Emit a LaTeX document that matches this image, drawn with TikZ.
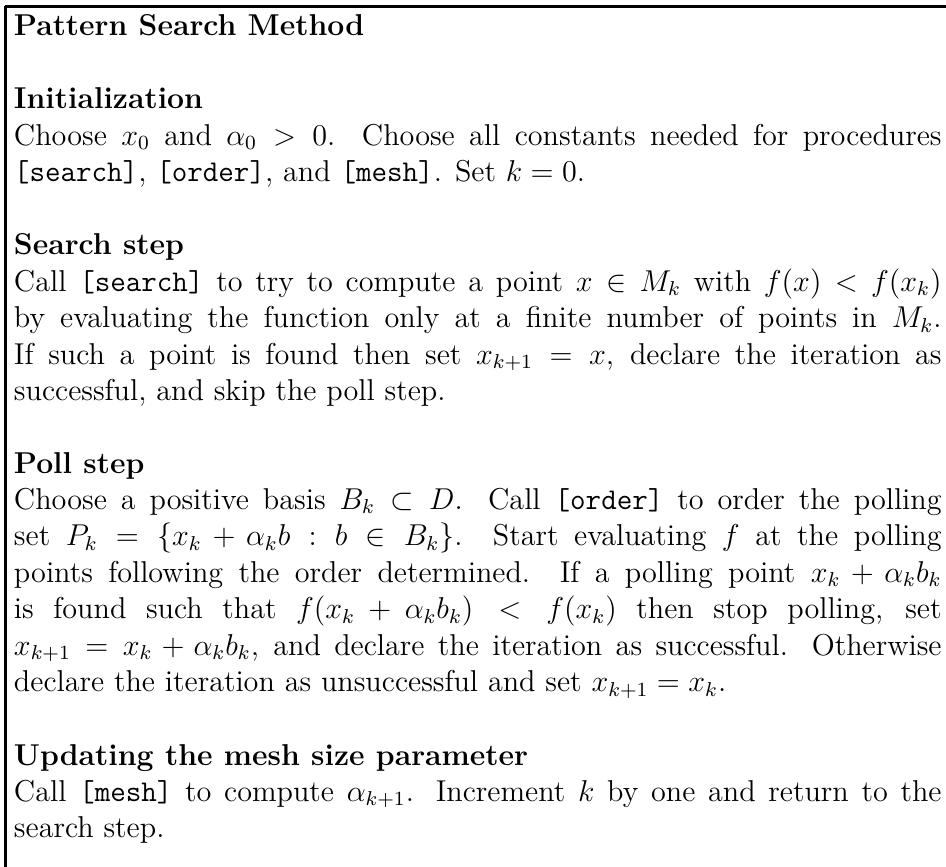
\documentclass[tikz,border=0pt]{standalone}
\usepackage{amsmath,amssymb}
\hyphenpenalty=10000
\tikzset{
  sect/.style={anchor=base west, inner sep=0pt, outer sep=0pt, text width=369pt, align=justify,
    font=\fontsize{12}{14.5}\selectfont},
  frameline/.style={line cap=butt, black}
}
\begin{document}
\begin{tikzpicture}[x=0.3978pt, y=-0.3978pt]
\useasboundingbox (0,0) rectangle (946,867);
\draw[frameline, line width=1.3pt] (4.5,6.8) -- (946,6.8);
\draw[frameline, line width=1pt] (5.3,6) -- (5.3,867);
\node[sect] (title) at (14,36) {\textbf{Pattern Search Method}};
\node[sect] (init) at (14,109) {\textbf{Initialization}\\
Choose $x_0$ and $\alpha_0>0$. Choose all constants needed for procedures\linebreak
\texttt{[search]}, \texttt{[order]}, and \texttt{[mesh]}. Set $k=0$.};
\node[sect] (search) at (14,255) {\textbf{Search step}\\
Call \texttt{[search]} to try to compute a point $x\in M_k$ with $f(x)<f(x_k)$\linebreak
by evaluating the function only at a finite number of points in $M_k$.\linebreak
If such a point is found then set $x_{k+1}=x$, declare the iteration as\linebreak
successful, and skip the poll step.};
\node[sect] (poll) at (14,473) {\textbf{Poll step}\\
Choose a positive basis $B_k\subset D$. Call \texttt{[order]} to order the polling\linebreak
set $P_k=\{x_k+\alpha_k b : b\in B_k\}$. Start evaluating $f$ at the polling\linebreak
points following the order determined. If a polling point $x_k+\alpha_k b_k$\linebreak
is found such that $f(x_k+\alpha_k b_k)<f(x_k)$ then stop polling, set\linebreak
$x_{k+1}=x_k+\alpha_k b_k$, and declare the iteration as successful. Otherwise\linebreak
declare the iteration as unsuccessful and set $x_{k+1}=x_k$.};
\node[sect] (mesh) at (14,765) {\textbf{Updating the mesh size parameter}\\
Call \texttt{[mesh]} to compute $\alpha_{k+1}$. Increment $k$ by one and return to the\linebreak
search step.};
\end{tikzpicture}
\end{document}
